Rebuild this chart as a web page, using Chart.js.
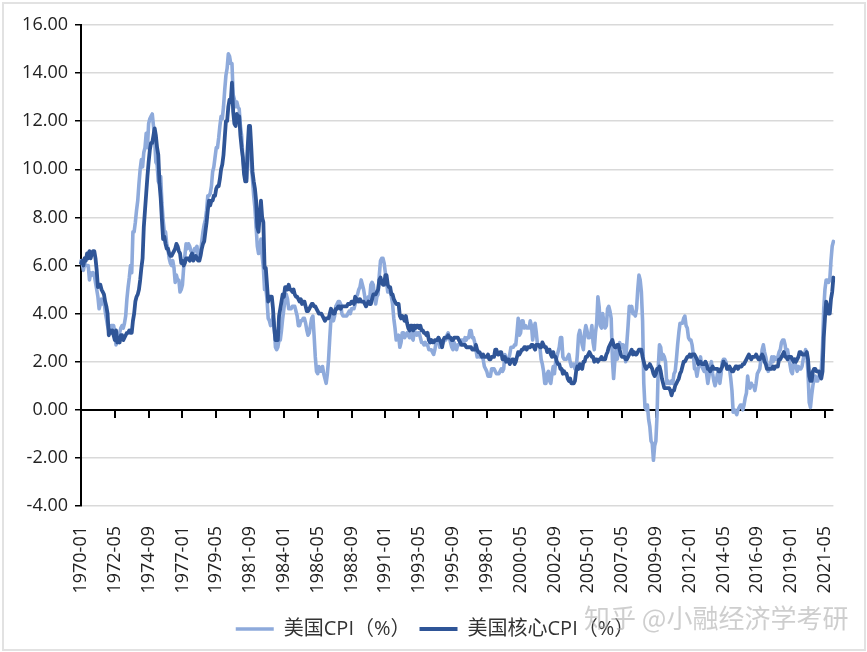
<!DOCTYPE html>
<html>
<head>
<meta charset="utf-8">
<script src="https://cdn.jsdelivr.net/npm/chart.js@4.4.1/dist/chart.umd.min.js"></script>
<style>
  html, body { margin: 0; padding: 0; background: #fff; }
  #wrap { position: relative; width: 867px; height: 652px; }
  #frame { position: absolute; left: 2px; top: 2px; right: 1px; bottom: 1px; border: 2px solid #e2e2e2; pointer-events: none; }
  #mark {
    position: absolute; left: 584px; top: 598px; line-height: 40px;
    font: 26px "Noto Sans CJK SC", sans-serif; color: rgba(165,165,165,0.55);
    white-space: nowrap;
  }
</style>
</head>
<body>
<div id="wrap">
  <canvas id="c"></canvas>
  <div id="frame"></div>
  <div id="mark">知乎 @小融经济学考研</div>
</div>
<script>
'use strict';

// ── Data (monthly, year-over-year %) ─────────────────────────────────────────
const START_YEAR = 1970;
const END_YEAR   = 2021;
const TICK_EVERY = 28;            // one label every 28 months (1970-01, 1972-05, ...)

const cpiValues = [
  /* 1970 */ 6.2, 6.1, 5.8, 6.1, 6.0, 6.0, 6.0, 5.4, 5.7, 5.6, 5.7, 5.6,
  /* 1971 */ 5.3, 5.0, 4.7, 4.2, 4.4, 4.6, 4.4, 4.6, 4.1, 3.8, 3.5, 3.3,
  /* 1972 */ 3.3, 3.5, 3.5, 3.5, 3.2, 2.7, 2.9, 2.9, 3.2, 3.4, 3.5, 3.4,
  /* 1973 */ 3.6, 3.9, 4.6, 5.1, 5.5, 6.0, 5.7, 7.4, 7.4, 7.8, 8.3, 8.7,
  /* 1974 */ 9.4, 10.0, 10.4, 10.1, 10.7, 10.9, 11.5, 10.9, 11.9, 12.1, 12.2, 12.3,
  /* 1975 */ 11.8, 11.2, 10.3, 10.2, 9.5, 9.4, 9.7, 8.6, 7.9, 7.4, 7.4, 6.9,
  /* 1976 */ 6.7, 6.3, 6.1, 6.0, 6.2, 5.9, 5.3, 5.6, 5.4, 5.4, 4.9, 5.0,
  /* 1977 */ 5.2, 5.9, 6.4, 6.9, 6.7, 6.9, 6.8, 6.6, 6.6, 6.4, 6.7, 6.7,
  /* 1978 */ 6.8, 6.4, 6.6, 6.5, 7.0, 7.4, 7.7, 7.9, 8.3, 8.9, 8.9, 9.0,
  /* 1979 */ 9.3, 9.9, 10.1, 10.5, 10.9, 10.9, 11.3, 11.8, 12.2, 12.1, 12.6, 13.3,
  /* 1980 */ 13.9, 14.2, 14.8, 14.7, 14.4, 14.4, 13.1, 12.9, 12.6, 12.8, 12.6, 12.5,
  /* 1981 */ 11.8, 11.4, 10.5, 10.0, 9.8, 9.6, 10.8, 10.8, 11.0, 10.1, 9.6, 8.9,
  /* 1982 */ 8.4, 7.6, 6.8, 6.5, 6.7, 7.1, 6.4, 5.9, 5.0, 5.1, 4.6, 3.8,
  /* 1983 */ 3.7, 3.5, 3.6, 3.9, 3.5, 2.6, 2.5, 2.6, 2.9, 2.9, 3.3, 3.8,
  /* 1984 */ 4.2, 4.6, 4.8, 4.6, 4.2, 4.2, 4.2, 4.3, 4.3, 4.3, 4.1, 3.9,
  /* 1985 */ 3.5, 3.5, 3.7, 3.7, 3.8, 3.8, 3.6, 3.3, 3.1, 3.2, 3.5, 3.8,
  /* 1986 */ 3.9, 3.1, 2.2, 1.6, 1.5, 1.8, 1.6, 1.6, 1.8, 1.5, 1.3, 1.1,
  /* 1987 */ 1.5, 2.1, 3.0, 3.8, 3.9, 3.7, 3.9, 4.3, 4.4, 4.5, 4.5, 4.4,
  /* 1988 */ 4.0, 3.9, 3.9, 3.9, 3.9, 4.0, 4.1, 4.0, 4.2, 4.2, 4.2, 4.4,
  /* 1989 */ 4.7, 4.8, 5.0, 5.1, 5.4, 5.2, 5.0, 4.7, 4.3, 4.5, 4.7, 4.6,
  /* 1990 */ 5.2, 5.3, 5.2, 4.7, 4.4, 4.7, 4.8, 5.6, 6.2, 6.3, 6.3, 6.1,
  /* 1991 */ 5.7, 5.3, 4.9, 4.9, 5.0, 4.7, 4.4, 3.8, 3.4, 2.9, 3.0, 3.1,
  /* 1992 */ 2.6, 2.8, 3.2, 3.2, 3.0, 3.1, 3.2, 3.1, 3.0, 3.2, 3.0, 2.9,
  /* 1993 */ 3.3, 3.2, 3.1, 3.2, 3.2, 3.0, 2.8, 2.8, 2.7, 2.8, 2.7, 2.7,
  /* 1994 */ 2.5, 2.5, 2.5, 2.4, 2.3, 2.5, 2.8, 2.9, 3.0, 2.6, 2.7, 2.7,
  /* 1995 */ 2.8, 2.9, 2.9, 3.1, 3.2, 3.0, 2.8, 2.6, 2.5, 2.8, 2.6, 2.5,
  /* 1996 */ 2.7, 2.7, 2.8, 2.9, 2.9, 2.8, 3.0, 2.9, 3.0, 3.0, 3.3, 3.3,
  /* 1997 */ 3.0, 3.0, 2.8, 2.5, 2.2, 2.3, 2.2, 2.2, 2.2, 2.1, 1.8, 1.7,
  /* 1998 */ 1.6, 1.4, 1.4, 1.4, 1.7, 1.7, 1.7, 1.6, 1.5, 1.5, 1.5, 1.6,
  /* 1999 */ 1.7, 1.6, 1.7, 2.3, 2.1, 2.0, 2.1, 2.3, 2.6, 2.6, 2.6, 2.7,
  /* 2000 */ 2.7, 3.2, 3.8, 3.1, 3.2, 3.7, 3.7, 3.4, 3.5, 3.4, 3.4, 3.4,
  /* 2001 */ 3.7, 3.5, 2.9, 3.3, 3.6, 3.2, 2.7, 2.7, 2.6, 2.1, 1.9, 1.6,
  /* 2002 */ 1.1, 1.1, 1.5, 1.6, 1.2, 1.1, 1.5, 1.8, 1.5, 2.0, 2.2, 2.4,
  /* 2003 */ 2.6, 3.0, 3.0, 2.2, 2.1, 2.1, 2.1, 2.2, 2.3, 2.0, 1.8, 1.9,
  /* 2004 */ 1.9, 1.7, 1.7, 2.3, 3.1, 3.3, 3.0, 2.7, 2.5, 3.2, 3.5, 3.3,
  /* 2005 */ 3.0, 3.0, 3.1, 3.5, 2.8, 2.5, 3.2, 3.6, 4.7, 4.3, 3.5, 3.4,
  /* 2006 */ 4.0, 3.6, 3.4, 3.5, 4.2, 4.3, 4.1, 3.8, 2.1, 1.3, 2.0, 2.5,
  /* 2007 */ 2.1, 2.4, 2.8, 2.6, 2.7, 2.7, 2.4, 2.0, 2.8, 3.5, 4.3, 4.1,
  /* 2008 */ 4.3, 4.0, 4.0, 3.9, 4.2, 5.0, 5.6, 5.4, 4.9, 3.7, 1.1, 0.1,
  /* 2009 */ 0.0, 0.2, -0.4, -0.7, -1.3, -1.4, -2.1, -1.5, -1.3, -0.2, 1.8, 2.7,
  /* 2010 */ 2.6, 2.1, 2.3, 2.2, 2.0, 1.1, 1.2, 1.1, 1.1, 1.2, 1.1, 1.5,
  /* 2011 */ 1.6, 2.1, 2.7, 3.2, 3.6, 3.6, 3.6, 3.8, 3.9, 3.5, 3.4, 3.0,
  /* 2012 */ 2.9, 2.9, 2.7, 2.3, 1.7, 1.7, 1.4, 1.7, 2.0, 2.2, 1.8, 1.7,
  /* 2013 */ 1.6, 2.0, 1.5, 1.1, 1.4, 1.8, 2.0, 1.5, 1.2, 1.0, 1.2, 1.5,
  /* 2014 */ 1.6, 1.1, 1.5, 2.0, 2.1, 2.1, 2.0, 1.7, 1.7, 1.7, 1.3, 0.8,
  /* 2015 */ -0.1, 0.0, -0.1, -0.2, 0.0, 0.1, 0.2, 0.2, 0.0, 0.2, 0.5, 0.7,
  /* 2016 */ 1.4, 1.0, 0.9, 1.1, 1.0, 1.0, 0.8, 1.1, 1.5, 1.6, 1.7, 2.1,
  /* 2017 */ 2.5, 2.7, 2.4, 2.2, 1.9, 1.6, 1.7, 1.9, 2.2, 2.0, 2.2, 2.1,
  /* 2018 */ 2.1, 2.2, 2.4, 2.5, 2.8, 2.9, 2.9, 2.7, 2.3, 2.5, 2.2, 1.9,
  /* 2019 */ 1.6, 1.5, 1.9, 2.0, 1.8, 1.6, 1.8, 1.7, 1.7, 1.8, 2.1, 2.3,
  /* 2020 */ 2.5, 2.3, 1.5, 0.3, 0.1, 0.6, 1.0, 1.3, 1.4, 1.2, 1.2, 1.4,
  /* 2021 */ 1.4, 1.7, 2.6, 4.2, 5.0, 5.4, 5.4, 5.3, 5.4, 6.2, 6.8, 7.0,
];

const coreValues = [
  /* 1970 */ 6.1, 6.2, 6.0, 6.3, 6.2, 6.5, 6.3, 6.6, 6.3, 6.5, 6.6, 6.6,
  /* 1971 */ 6.3, 5.8, 5.1, 5.2, 5.2, 5.0, 4.9, 4.8, 4.5, 4.3, 4.0, 3.1,
  /* 1972 */ 3.3, 3.2, 3.3, 3.1, 2.9, 3.3, 2.8, 3.0, 2.8, 3.1, 3.1, 2.9,
  /* 1973 */ 3.0, 3.1, 3.2, 3.2, 3.3, 3.2, 3.2, 3.7, 4.0, 4.5, 4.7, 4.8,
  /* 1974 */ 5.0, 5.4, 5.9, 6.3, 7.6, 8.3, 9.0, 9.7, 10.3, 10.8, 11.1, 11.1,
  /* 1975 */ 11.4, 11.7, 11.4, 10.9, 10.6, 9.4, 8.8, 7.9, 7.1, 7.2, 6.9, 6.7,
  /* 1976 */ 6.7, 6.5, 6.4, 6.4, 6.5, 6.6, 6.7, 6.9, 6.8, 6.6, 6.5, 6.1,
  /* 1977 */ 6.2, 6.0, 6.1, 6.3, 6.3, 6.3, 6.2, 6.4, 6.5, 6.2, 6.3, 6.4,
  /* 1978 */ 6.3, 6.2, 6.2, 6.4, 6.7, 6.9, 7.0, 7.4, 7.8, 8.3, 8.7, 8.5,
  /* 1979 */ 8.7, 8.7, 8.9, 8.9, 9.2, 9.3, 9.3, 9.6, 10.0, 10.2, 10.6, 11.3,
  /* 1980 */ 12.0, 12.0, 12.6, 12.9, 12.8, 13.6, 12.4, 11.9, 11.8, 12.3, 12.0, 12.2,
  /* 1981 */ 11.4, 10.9, 10.5, 9.8, 9.5, 9.5, 10.9, 11.8, 11.8, 10.9, 9.9, 9.5,
  /* 1982 */ 9.2, 8.7, 7.6, 7.4, 8.1, 8.7, 8.0, 7.8, 5.9, 5.9, 5.2, 4.5,
  /* 1983 */ 4.7, 4.7, 4.7, 4.2, 3.4, 2.9, 2.9, 2.9, 3.9, 4.2, 4.5, 4.8,
  /* 1984 */ 4.7, 5.1, 5.1, 5.0, 5.2, 5.0, 5.0, 4.9, 5.0, 4.8, 4.7, 4.7,
  /* 1985 */ 4.6, 4.5, 4.6, 4.4, 4.5, 4.5, 4.3, 4.1, 4.1, 4.2, 4.3, 4.4,
  /* 1986 */ 4.4, 4.3, 4.3, 4.2, 4.1, 4.0, 4.0, 4.0, 3.9, 3.8, 3.7, 3.8,
  /* 1987 */ 3.8, 3.8, 4.0, 4.2, 4.1, 4.0, 4.0, 4.2, 4.2, 4.3, 4.3, 4.2,
  /* 1988 */ 4.3, 4.3, 4.3, 4.3, 4.3, 4.4, 4.4, 4.4, 4.5, 4.5, 4.4, 4.7,
  /* 1989 */ 4.5, 4.6, 4.5, 4.6, 4.5, 4.5, 4.5, 4.4, 4.3, 4.4, 4.5, 4.4,
  /* 1990 */ 4.4, 4.6, 4.8, 4.8, 4.8, 4.9, 5.0, 5.4, 5.5, 5.3, 5.2, 5.2,
  /* 1991 */ 5.6, 5.6, 5.2, 5.1, 5.1, 4.8, 4.8, 4.6, 4.5, 4.4, 4.4, 4.4,
  /* 1992 */ 3.9, 3.8, 3.9, 3.8, 3.7, 3.9, 3.6, 3.4, 3.3, 3.5, 3.5, 3.3,
  /* 1993 */ 3.5, 3.4, 3.5, 3.5, 3.4, 3.5, 3.3, 3.3, 3.2, 3.2, 3.1, 3.2,
  /* 1994 */ 2.9, 2.8, 2.9, 2.8, 2.8, 2.9, 2.9, 2.9, 3.0, 2.9, 2.8, 2.6,
  /* 1995 */ 2.9, 3.0, 3.0, 3.0, 3.1, 3.0, 3.0, 2.9, 2.9, 3.0, 3.0, 3.0,
  /* 1996 */ 3.0, 2.9, 2.8, 2.7, 2.7, 2.7, 2.7, 2.6, 2.6, 2.6, 2.6, 2.6,
  /* 1997 */ 2.5, 2.5, 2.5, 2.7, 2.5, 2.4, 2.4, 2.3, 2.2, 2.3, 2.2, 2.2,
  /* 1998 */ 2.2, 2.3, 2.1, 2.1, 2.2, 2.2, 2.2, 2.5, 2.5, 2.3, 2.3, 2.4,
  /* 1999 */ 2.4, 2.1, 2.1, 2.2, 2.0, 2.1, 2.1, 1.9, 2.0, 2.1, 2.1, 1.9,
  /* 2000 */ 2.0, 2.2, 2.4, 2.3, 2.4, 2.5, 2.5, 2.6, 2.6, 2.5, 2.6, 2.6,
  /* 2001 */ 2.6, 2.7, 2.7, 2.6, 2.5, 2.7, 2.7, 2.7, 2.6, 2.6, 2.8, 2.7,
  /* 2002 */ 2.6, 2.6, 2.4, 2.5, 2.5, 2.3, 2.2, 2.4, 2.2, 2.2, 2.0, 1.9,
  /* 2003 */ 1.9, 1.7, 1.7, 1.5, 1.6, 1.5, 1.5, 1.3, 1.2, 1.3, 1.1, 1.1,
  /* 2004 */ 1.1, 1.2, 1.6, 1.8, 1.7, 1.9, 1.8, 1.7, 2.0, 2.0, 2.2, 2.2,
  /* 2005 */ 2.3, 2.4, 2.3, 2.2, 2.2, 2.0, 2.1, 2.1, 2.0, 2.1, 2.1, 2.2,
  /* 2006 */ 2.1, 2.1, 2.1, 2.3, 2.4, 2.6, 2.7, 2.8, 2.9, 2.7, 2.6, 2.6,
  /* 2007 */ 2.7, 2.7, 2.5, 2.3, 2.2, 2.2, 2.2, 2.1, 2.1, 2.2, 2.3, 2.4,
  /* 2008 */ 2.5, 2.3, 2.4, 2.3, 2.3, 2.4, 2.5, 2.5, 2.5, 2.2, 2.0, 1.8,
  /* 2009 */ 1.7, 1.8, 1.8, 1.9, 1.8, 1.7, 1.5, 1.4, 1.5, 1.7, 1.7, 1.8,
  /* 2010 */ 1.6, 1.3, 1.1, 0.9, 0.9, 0.9, 0.9, 0.9, 0.8, 0.6, 0.8, 0.8,
  /* 2011 */ 1.0, 1.1, 1.2, 1.3, 1.5, 1.6, 1.8, 2.0, 2.0, 2.1, 2.2, 2.2,
  /* 2012 */ 2.3, 2.2, 2.3, 2.3, 2.3, 2.2, 2.1, 1.9, 2.0, 2.0, 1.9, 1.9,
  /* 2013 */ 1.9, 2.0, 1.9, 1.7, 1.7, 1.6, 1.7, 1.8, 1.7, 1.7, 1.7, 1.7,
  /* 2014 */ 1.6, 1.6, 1.7, 1.8, 2.0, 1.9, 1.9, 1.7, 1.7, 1.8, 1.7, 1.6,
  /* 2015 */ 1.6, 1.7, 1.8, 1.8, 1.7, 1.8, 1.8, 1.8, 1.9, 1.9, 2.0, 2.1,
  /* 2016 */ 2.2, 2.3, 2.2, 2.1, 2.2, 2.2, 2.2, 2.3, 2.2, 2.1, 2.1, 2.2,
  /* 2017 */ 2.3, 2.2, 2.0, 1.9, 1.7, 1.7, 1.7, 1.7, 1.7, 1.8, 1.7, 1.8,
  /* 2018 */ 1.8, 1.8, 2.1, 2.1, 2.2, 2.3, 2.4, 2.2, 2.2, 2.1, 2.2, 2.2,
  /* 2019 */ 2.2, 2.1, 2.0, 2.1, 2.0, 2.1, 2.2, 2.4, 2.4, 2.3, 2.3, 2.3,
  /* 2020 */ 2.3, 2.4, 2.1, 1.4, 1.2, 1.2, 1.6, 1.7, 1.7, 1.6, 1.6, 1.6,
  /* 2021 */ 1.4, 1.3, 1.6, 3.0, 3.8, 4.5, 4.3, 4.0, 4.0, 4.6, 4.9, 5.5,
];

const seriesNames = ['美国CPI（%）', '美国核心CPI（%）'];

const monthLabels = [];
for (let y = START_YEAR; y <= END_YEAR; y++) {
  for (let m = 1; m <= 12; m++) monthLabels.push(`${y}-${String(m).padStart(2, '0')}`);
}

// ── Styling ───────────────────────────────────────────────────────────────────
const LIGHT = '#8eaadb';
const DARK  = '#2f5597';
const FONT  = '"Open Sans", "Noto Sans CJK SC", sans-serif';

// black zero axis with downward tick marks, like the spreadsheet original
const zeroAxis = {
  id: 'zeroAxis',
  beforeDatasetsDraw(chart) {
    const { ctx, chartArea, scales: { x, y } } = chart;
    const y0 = Math.round(y.getPixelForValue(0));
    ctx.save();
    ctx.strokeStyle = '#000';
    ctx.lineWidth = 2;
    ctx.beginPath();
    ctx.moveTo(chartArea.left, y0);
    ctx.lineTo(chartArea.right, y0);
    for (let i = TICK_EVERY; i < monthLabels.length; i += TICK_EVERY) {
      const px = Math.round(x.getPixelForValue(i));
      ctx.moveTo(px, y0);
      ctx.lineTo(px, y0 + 8);
    }
    ctx.stroke();
    ctx.restore();
  }
};

Chart.defaults.font.family = FONT;
Chart.defaults.color = '#222';

new Chart(document.getElementById('c'), {
  type: 'line',
  data: {
    labels: monthLabels,
    datasets: [
      { label: seriesNames[0], data: cpiValues,  borderColor: LIGHT, backgroundColor: LIGHT, borderWidth: 3.6, order: 1 },
      { label: seriesNames[1], data: coreValues, borderColor: DARK,  backgroundColor: DARK,  borderWidth: 3.8, order: 0 },
    ]
  },
  options: {
    responsive: true,
    maintainAspectRatio: false,
    animation: false,
    layout: { padding: { top: 25, right: 10, bottom: 3, left: 13 } },
    elements: {
      point: { radius: 0, hoverRadius: 0 },
      line: { tension: 0, borderJoinStyle: 'round', borderCapStyle: 'round' }
    },
    plugins: {
      tooltip: { enabled: false },
      legend: {
        position: 'bottom',
        labels: {
          usePointStyle: true,
          pointStyle: 'line',
          pointStyleWidth: 38,
          padding: 9,
          color: '#333',
          font: { size: 20 },
          sort: (a, b) => a.datasetIndex - b.datasetIndex,
        }
      }
    },
    scales: {
      x: {
        grid: { display: false },
        border: { display: false },
        afterFit: (s) => { s.height = 104; },
        ticks: {
          autoSkip: false,
          minRotation: 90,
          maxRotation: 90,
          padding: 12,
          font: { size: 18 },
          color: '#222',
          callback: (v, i) => (i % TICK_EVERY === 0 ? monthLabels[i] : ''),
        }
      },
      y: {
        min: -4,
        max: 16,
        afterFit: (s) => { s.width = 68; },
        border: { display: true, color: '#000', width: 2 },
        grid: { color: '#d9d9d9', lineWidth: 1.5, drawTicks: true, tickLength: 6, tickColor: '#000' },
        ticks: {
          stepSize: 2,
          padding: 7,
          font: { size: 18 },
          color: '#222',
          callback: (v) => v.toFixed(2),
        }
      }
    }
  },
  plugins: [zeroAxis]
});
</script>
</body>
</html>
